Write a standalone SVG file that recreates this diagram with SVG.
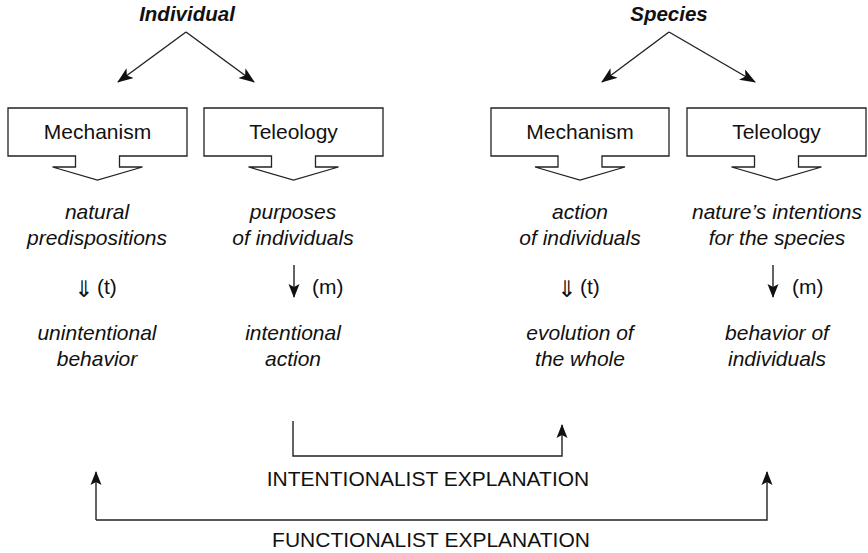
<svg xmlns="http://www.w3.org/2000/svg" width="868" height="553" viewBox="0 0 868 553">
<style>
text{font-family:"Liberation Sans",Arial,"DejaVu Sans",sans-serif;font-size:21px;fill:#111;text-anchor:middle}
.h{font-weight:bold;font-style:italic;font-size:20.5px}
.i{font-style:italic}
.sym{font-family:"DejaVu Sans",sans-serif;font-size:23px}
.lab{text-anchor:start}
.box{fill:#fff;stroke:#222;stroke-width:1.3}
.ln{fill:none;stroke:#222;stroke-width:1.4}
</style>
<defs>
<marker id="ah" markerWidth="16" markerHeight="12" refX="15" refY="6" orient="auto" markerUnits="userSpaceOnUse">
<path d="M0,0 L16,6 L0,12 L4,6 Z" fill="#111"/>
</marker>
<marker id="ahs" markerWidth="14" markerHeight="12" refX="13" refY="6" orient="auto" markerUnits="userSpaceOnUse">
<path d="M0,0.5 L14,6 L0,11.5 L3,6 Z" fill="#111"/>
</marker>
</defs>
<g id="individual"><text class="h" x="187" y="21">Individual</text></g>
<g id="species"><text class="h" x="669" y="21">Species</text></g>
<g id="mech1"><path class="box" d="M8,108 H187 V156 H119.5 V167 H142.5 L97.5,180 L52.5,167 H75.5 V156 H8 Z"/><text x="97.5" y="139">Mechanism</text></g>
<g id="tele1"><path class="box" d="M204,108 H383 V156 H315.5 V167 H338.5 L293.5,180 L248.5,167 H271.5 V156 H204 Z"/><text x="293.5" y="139">Teleology</text></g>
<g id="mech2"><path class="box" d="M491,108 H669 V156 H602 V167 H625 L580,180 L535,167 H558 V156 H491 Z"/><text x="580" y="139">Mechanism</text></g>
<g id="tele2"><path class="box" d="M687,108 H866 V156 H798.5 V167 H821.5 L776.5,180 L731.5,167 H754.5 V156 H687 Z"/><text x="776.5" y="139">Teleology</text></g>
<g id="col1">
<text class="i" x="97" y="219">natural</text><text class="i" x="97" y="245">predispositions</text>
<text class="sym" x="84" y="297">⇓</text><text class="lab" x="97" y="294">(t)</text>
<text class="i" x="97" y="340">unintentional</text><text class="i" x="97" y="366">behavior</text>
</g>
<g id="col2">
<text class="i" x="293" y="219">purposes</text><text class="i" x="293" y="245">of individuals</text>
<text class="lab" x="312" y="294">(m)</text>
<text class="i" x="293" y="340">intentional</text><text class="i" x="293" y="366">action</text>
</g>
<g id="col3">
<text class="i" x="580" y="219">action</text><text class="i" x="580" y="245">of individuals</text>
<text class="sym" x="567" y="297">⇓</text><text class="lab" x="580" y="294">(t)</text>
<text class="i" x="580" y="340">evolution of</text><text class="i" x="580" y="366">the whole</text>
</g>
<g id="col4">
<text class="i" x="777" y="219">nature’s intentions</text><text class="i" x="777" y="245">for the species</text>
<text class="lab" x="792" y="294">(m)</text>
<text class="i" x="777" y="340">behavior of</text><text class="i" x="777" y="366">individuals</text>
</g>
<g id="intentionalist"><text x="428" y="486">INTENTIONALIST EXPLANATION</text></g>
<g id="functionalist"><text x="431" y="547">FUNCTIONALIST EXPLANATION</text></g>
<g id="connectors">
<path class="ln" d="M186,32 L118,82" marker-end="url(#ah)"/>
<path class="ln" d="M186,32 L254,82" marker-end="url(#ah)"/>
<path class="ln" d="M669,32 L602,82" marker-end="url(#ah)"/>
<path class="ln" d="M669,32 L755,82" marker-end="url(#ah)"/>
<path class="ln" d="M294,265 V297" marker-end="url(#ahs)"/>
<path class="ln" d="M773,265 V297" marker-end="url(#ahs)"/>
<path class="ln" d="M293,421 V456 H562 V425" marker-end="url(#ahs)"/>
<path class="ln" d="M96,520 V472" marker-end="url(#ahs)"/>
<path class="ln" d="M96,520 H767 V472" marker-end="url(#ahs)"/>
</g>
</svg>
